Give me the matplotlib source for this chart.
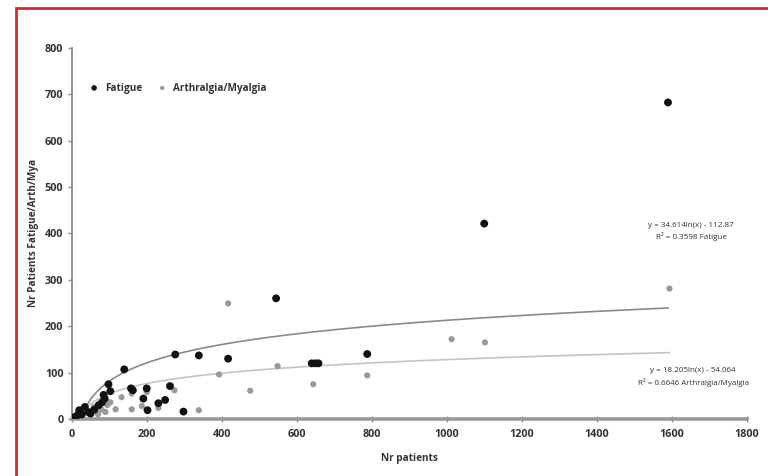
import numpy as np
import matplotlib
matplotlib.use("Agg")
import matplotlib.pyplot as plt
from matplotlib.patches import Rectangle

plt.rcParams['font.family'] = ['Open Sans', 'DejaVu Sans']

# ── Données ──────────────────────────────────────────────────
fatigue_x = [1590, 1100, 545, 417, 339, 276, 640, 650, 658, 788, 140, 98, 103, 85, 88, 81,
             158, 163, 200, 191, 202, 231, 249, 262, 298, 20, 35, 72, 27, 10, 45, 60, 50, 15, 5]
fatigue_y = [682, 421, 260, 130, 137, 139, 120, 120, 120, 140, 107, 75, 60, 52, 44, 36,
             66, 62, 66, 44, 19, 34, 41, 71, 16, 19, 26, 30, 10, 5, 15, 20, 12, 8, 3]

arthro_x = [1594, 1013, 1102, 417, 549, 393, 476, 644, 788, 339, 274, 160, 160, 133, 117,
            187, 231, 200, 103, 76, 59, 90, 80, 70, 50, 40, 30, 25, 20, 10, 95, 85]
arthro_y = [281, 172, 165, 249, 114, 96, 61, 75, 94, 19, 62, 21, 55, 47, 21,
            28, 24, 58, 36, 23, 26, 15, 20, 10, 8, 15, 12, 20, 5, 3, 30, 40]

fatigue_trend = (57.0, -181.0)
arthro_trend = (32.0, -93.0)

fatigue_eq = "y = 34.614ln(x) - 112.87\nR² = 0.3598 Fatigue"
arthro_eq = "y = 18.205ln(x) - 54.064\nR² = 0.6646 Arthralgia/Myalgia"

x_ticks = list(range(0, 1801, 200))
y_ticks = list(range(0, 801, 100))

# ── Figure ───────────────────────────────────────────────────
fig = plt.figure(figsize=(7.68, 4.76), dpi=100)
ax = fig.add_axes([0.0934, 0.1197, 0.8789, 0.7801])

xs = np.geomspace(1, max(fatigue_x), 300)
ax.plot(xs, fatigue_trend[0] * np.log(xs) + fatigue_trend[1], color="#8a8a8a", lw=1.2, zorder=2)
xs2 = np.geomspace(1, max(arthro_x), 300)
ax.plot(xs2, arthro_trend[0] * np.log(xs2) + arthro_trend[1], color="#c4c4c4", lw=1.2, zorder=2)

ax.scatter(arthro_x, arthro_y, s=20, color="#9a9a9a", edgecolors="none",
           label="Arthralgia/Myalgia", zorder=3)
ax.scatter(fatigue_x, fatigue_y, s=32, color="#111111", edgecolors="none",
           label="Fatigue", zorder=4)

ax.text(1652, 404, fatigue_eq, ha="center", va="center", fontsize=5.8, color="#333333",
        linespacing=1.5)
ax.text(1657, 90, arthro_eq, ha="center", va="center", fontsize=5.8, color="#333333",
        linespacing=1.5)

ax.set_xlim(0, 1800)
ax.set_ylim(0, 800)
ax.set_xticks(x_ticks)
ax.set_yticks(y_ticks)

for side in ("top", "right"):
    ax.spines[side].set_visible(False)
ax.spines["left"].set_color("#8c8c8c")
ax.spines["left"].set_linewidth(1.3)
ax.spines["bottom"].set_color("#999999")
ax.spines["bottom"].set_linewidth(2.6)

ax.tick_params(axis="y", direction="out", length=3, width=1, color="#8c8c8c",
               labelsize=7.8, labelcolor="#333333", pad=3)
ax.tick_params(axis="x", direction="inout", length=5, width=1, color="#8c8c8c",
               labelsize=7.8, labelcolor="#333333", pad=5)
for lab in ax.get_xticklabels() + ax.get_yticklabels():
    lab.set_fontweight("bold")

ax.set_xlabel("Nr patients", fontsize=7.2, fontweight="bold", color="#333333", labelpad=9)
ax.set_ylabel("Nr Patients Fatigue/Arth/Mya", fontsize=7.2, fontweight="bold",
              color="#333333", labelpad=4)

handles, labels = ax.get_legend_handles_labels()
leg = ax.legend(handles[::-1], labels[::-1], loc="upper left", bbox_to_anchor=(0.008, 0.925),
                ncol=2, frameon=False, fontsize=7.2, handletextpad=0.1, columnspacing=1.0,
                markerscale=0.7, borderpad=0.2)
for t in leg.get_texts():
    t.set_fontweight("bold")
    t.set_color("#333333")

# cadre rouge autour de la figure
fig.add_artist(Rectangle((16 / 768, -0.1), 1.2, 1 - 8 / 476 + 0.1, transform=fig.transFigure,
                         fill=False, edgecolor="#d42a2f", lw=2))

fig.savefig("out.png", dpi=100)
